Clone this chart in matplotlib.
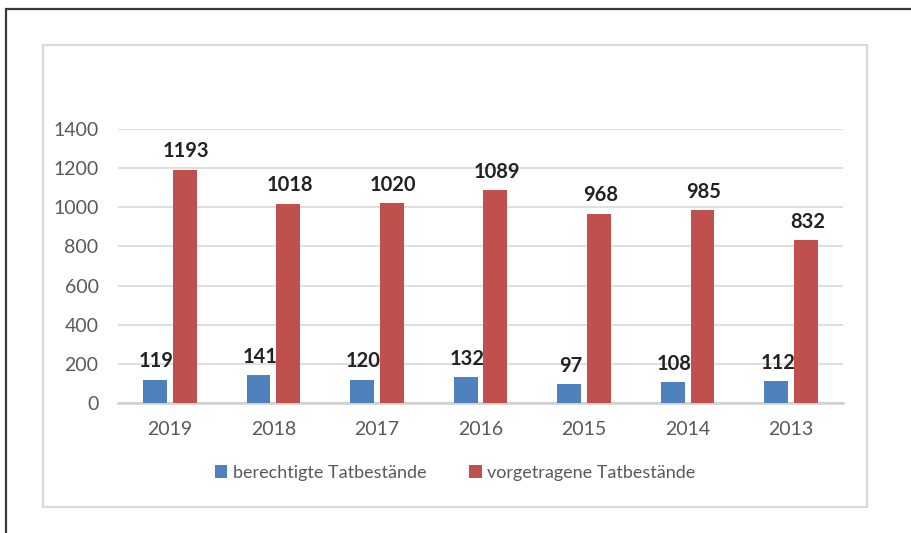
import matplotlib.pyplot as plt
from matplotlib.patches import Rectangle

jahre = ["2019", "2018", "2017", "2016", "2015", "2014", "2013"]
berechtigt = [119, 141, 120, 132, 97, 108, 112]
vorgetragen = [1193, 1018, 1020, 1089, 968, 985, 832]
y_ticks = [0, 200, 400, 600, 800, 1000, 1200, 1400]

plt.rcParams['font.family'] = ['Lato', 'DejaVu Sans']

W, H = 911, 533
fig = plt.figure(figsize=(W / 100, H / 100), dpi=100)

# Rahmen aussen (schwarz, laeuft rechts/unten aus dem Bild) und innen (hellgrau)
fig.patches.append(Rectangle((5.5 / W, -0.2), 1, 1.2 - 8.5 / H, transform=fig.transFigure,
                             fill=False, edgecolor='#3a3a3a', linewidth=1.6))
fig.patches.append(Rectangle((43 / W, 1 - 507 / H), 824 / W, 462 / H, transform=fig.transFigure,
                             fill=False, edgecolor='#d9d9d9', linewidth=1.5))

ax = fig.add_axes([118 / W, 1 - 403 / H, 725 / W, 274 / H])
x = range(len(jahre))
w = 0.23
off = 0.143
b1 = ax.bar([i - off for i in x], berechtigt, width=w, color='#4F81BD', label='berechtigte Tatbestände', zorder=3)
b2 = ax.bar([i + off for i in x], vorgetragen, width=w, color='#C0504D', label='vorgetragene Tatbestände', zorder=3)

for bars in (b1, b2):
    for r in bars:
        ax.annotate(str(int(r.get_height())), (r.get_x() + r.get_width() / 2, r.get_height()),
                    xytext=(1, 6), textcoords='offset points', ha='center', va='bottom',
                    fontsize=14.5, fontweight='bold', color='#222222', annotation_clip=False)

ax.set_xlim(-0.5, 6.5)
ax.set_ylim(0, 1400)
ax.set_yticks(y_ticks)
ax.set_xticks(list(x))
ax.set_xticklabels(jahre)
ax.tick_params(axis='both', length=0, labelsize=14, colors='#595959')
ax.tick_params(axis='y', pad=14)
ax.tick_params(axis='x', pad=13)
ax.grid(axis='y', color='#d9d9d9', linewidth=1.2, zorder=0)
for s in ['top', 'right', 'left']:
    ax.spines[s].set_visible(False)
ax.spines['bottom'].set_color('#d0d0d0')
ax.spines['bottom'].set_linewidth(1.8)

ax.legend(loc='center', bbox_to_anchor=(0.465, -0.255), ncol=2, frameon=False,
          fontsize=13, labelcolor='#595959', handlelength=0.7, handleheight=0.7,
          handletextpad=0.3, columnspacing=2.4)

fig.savefig('out.png', dpi=100)
